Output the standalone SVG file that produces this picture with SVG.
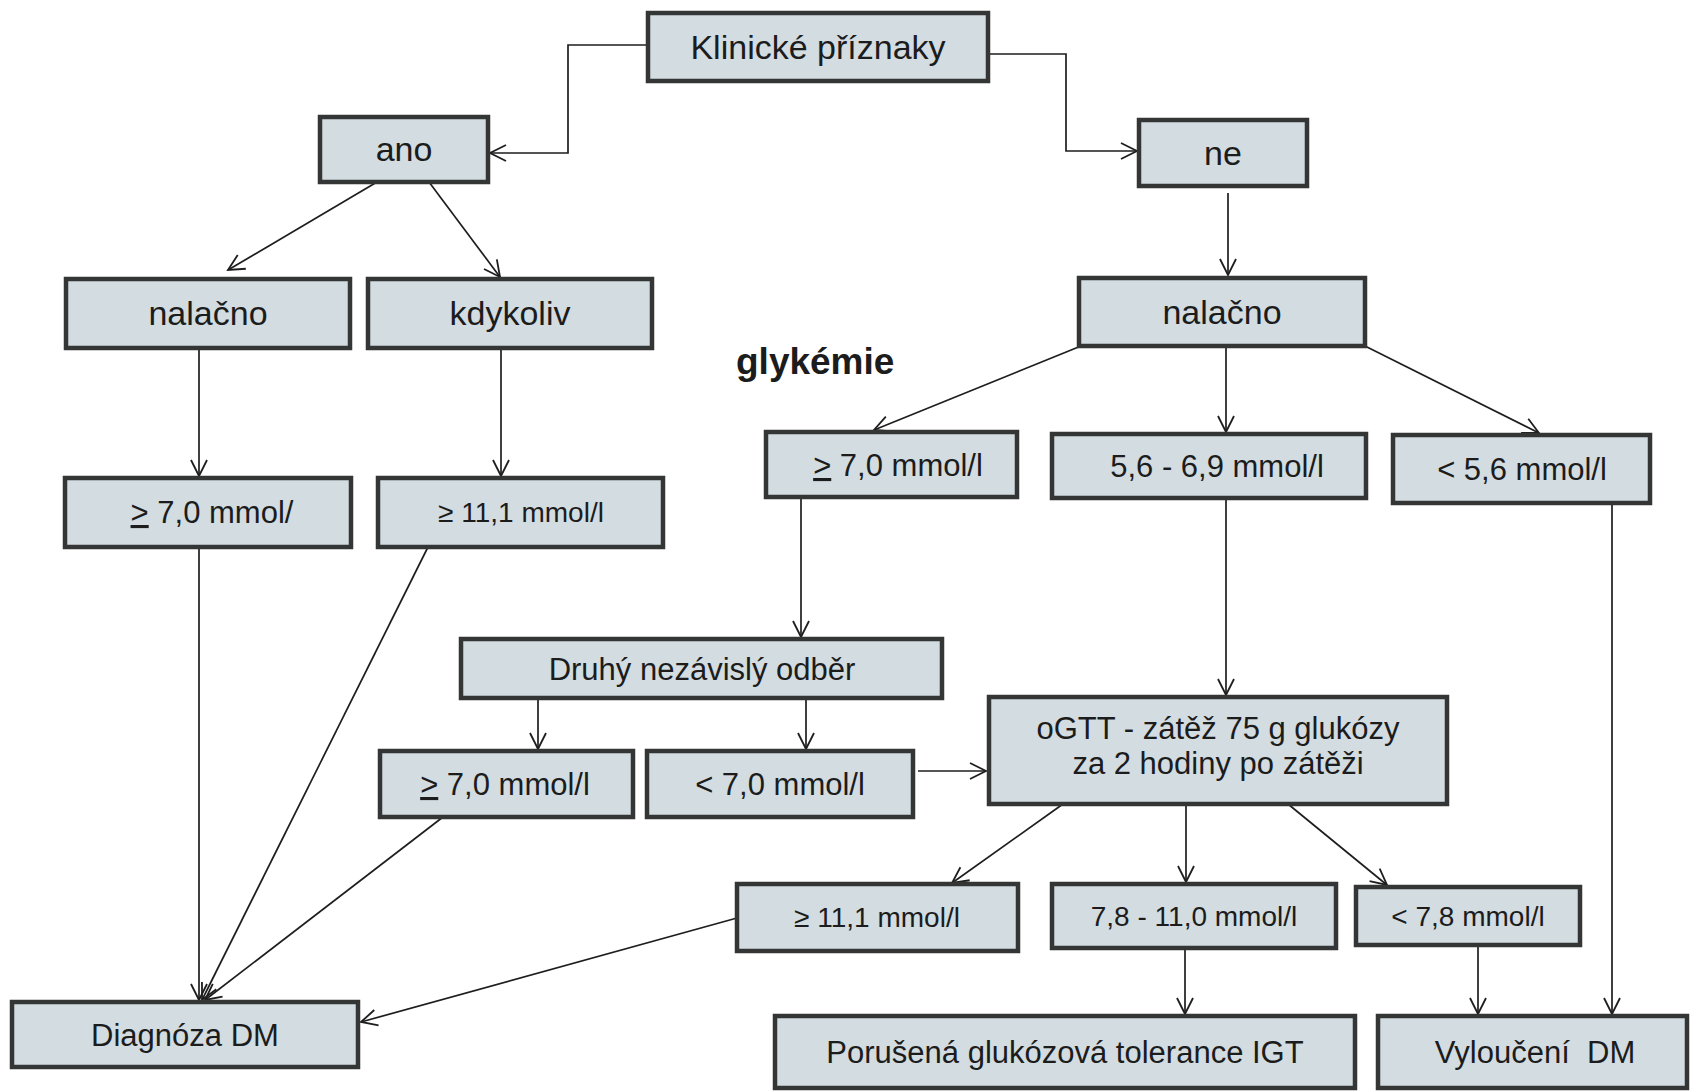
<svg xmlns="http://www.w3.org/2000/svg" width="1691" height="1091" viewBox="0 0 1691 1091">
<defs>
<marker id="arr" markerUnits="userSpaceOnUse" markerWidth="24" markerHeight="24" viewBox="-20 -12 24 24" refX="0" refY="0" orient="auto">
<path d="M-16,-8 L0,0 L-16,8" fill="none" stroke="#1e1e1e" stroke-width="1.8"/>
</marker>
<style>
.box{fill:#d2dce1;stroke:#343636;stroke-width:4.5}
.t{font-family:"Liberation Sans",Arial,sans-serif;fill:#1c1c1c;text-anchor:middle;font-size:31px}
.big{font-size:34px}
.sm{font-size:28px}
.c{fill:none;stroke:#1e1e1e;stroke-width:1.7;marker-end:url(#arr)}
.u{text-decoration:underline}
</style>
</defs>
<rect width="1691" height="1091" fill="#ffffff"/>
<g id="connectors">
<path class="c" d="M648,45 H568 V153 H490"/>
<path class="c" d="M988,54 H1066 V151 H1137"/>
<path class="c" d="M377,182 L228,270"/>
<path class="c" d="M429,182 L500,277"/>
<path class="c" d="M1228,193 V275"/>
<path class="c" d="M199,348 V476"/>
<path class="c" d="M501,348 V476"/>
<path class="c" d="M1081,346 L874,430"/>
<path class="c" d="M1226,346 V432"/>
<path class="c" d="M1365,346 L1539,433"/>
<path class="c" d="M801,497 V637"/>
<path class="c" d="M1226,498 V695"/>
<path class="c" d="M1612,503 V1014"/>
<path class="c" d="M538,698 V749"/>
<path class="c" d="M806,698 V749"/>
<path class="c" d="M918,771 H986"/>
<path class="c" d="M1063,804 L952,883"/>
<path class="c" d="M1186,804 V882"/>
<path class="c" d="M1288,804 L1387,885"/>
<path class="c" d="M1185,948 V1014"/>
<path class="c" d="M1478,945 V1014"/>
<path class="c" d="M199,547 V1000"/>
<path class="c" d="M428,547 L202,1000"/>
<path class="c" d="M443,817 L205,1000"/>
<path class="c" d="M737,918 L361,1022"/>
</g>
<g id="n-klinicke"><rect class="box" x="648" y="13" width="340" height="68"/><text class="t big" x="818" y="59">Klinické příznaky</text></g>
<g id="n-ano"><rect class="box" x="320" y="117" width="168" height="65"/><text class="t big" x="404" y="161">ano</text></g>
<g id="n-ne"><rect class="box" x="1139" y="120" width="168" height="66"/><text class="t big" x="1223" y="165">ne</text></g>
<g id="n-nalacno-l"><rect class="box" x="66" y="279" width="284" height="69"/><text class="t big" x="208" y="325">nalačno</text></g>
<g id="n-kdykoliv"><rect class="box" x="368" y="279" width="284" height="69"/><text class="t big" x="510" y="325">kdykoliv</text></g>
<g id="n-nalacno-r"><rect class="box" x="1079" y="278" width="286" height="68"/><text class="t big" x="1222" y="324">nalačno</text></g>
<g id="n-glykemie"><text x="736" y="374" style="font-family:'Liberation Sans',Arial,sans-serif;font-weight:bold;font-size:37px;fill:#1c1c1c">glykémie</text></g>
<g id="n-g70-r"><rect class="box" x="766" y="432" width="251" height="65"/><text class="t" x="898" y="476"><tspan class="u">&gt;</tspan> 7,0 mmol/l</text></g>
<g id="n-56-69"><rect class="box" x="1052" y="434" width="314" height="64"/><text class="t" x="1217" y="477">5,6 - 6,9 mmol/l</text></g>
<g id="n-l56"><rect class="box" x="1393" y="435" width="257" height="68"/><text class="t" x="1522" y="480">&lt; 5,6 mmol/l</text></g>
<g id="n-g70-l"><rect class="box" x="65" y="478" width="286" height="69"/><text class="t" x="212" y="523"><tspan class="u">&gt;</tspan> 7,0 mmol/</text></g>
<g id="n-g111-l"><rect class="box" x="378" y="478" width="285" height="69"/><text class="t sm" x="521" y="522">≥ 11,1 mmol/l</text></g>
<g id="n-druhy"><rect class="box" x="461" y="639" width="481" height="59"/><text class="t" x="702" y="680">Druhý nezávislý odběr</text></g>
<g id="n-g70-m"><rect class="box" x="380" y="751" width="253" height="66"/><text class="t" x="505" y="795"><tspan class="u">&gt;</tspan> 7,0 mmol/l</text></g>
<g id="n-l70"><rect class="box" x="647" y="751" width="266" height="66"/><text class="t" x="780" y="795">&lt; 7,0 mmol/l</text></g>
<g id="n-ogtt"><rect class="box" x="989" y="697" width="458" height="107"/><text class="t" x="1218" y="739">oGTT - zátěž 75 g glukózy</text><text class="t" x="1218" y="774">za 2 hodiny po zátěži</text></g>
<g id="n-g111-b"><rect class="box" x="737" y="884" width="281" height="67"/><text class="t sm" x="877" y="927">≥ 11,1 mmol/l</text></g>
<g id="n-78-110"><rect class="box" x="1052" y="884" width="284" height="64"/><text class="t sm" x="1194" y="926">7,8 - 11,0 mmol/l</text></g>
<g id="n-l78"><rect class="box" x="1356" y="887" width="224" height="58"/><text class="t sm" x="1468" y="926">&lt; 7,8 mmol/l</text></g>
<g id="n-diagnoza"><rect class="box" x="12" y="1002" width="346" height="65"/><text class="t" x="185" y="1046">Diagnóza DM</text></g>
<g id="n-porusena"><rect class="box" x="775" y="1016" width="580" height="72"/><text class="t" x="1065" y="1063">Porušená glukózová tolerance IGT</text></g>
<g id="n-vylouceni"><rect class="box" x="1378" y="1016" width="309" height="72"/><text class="t" x="1535" y="1063" xml:space="preserve">Vyloučení  DM</text></g>
</svg>
